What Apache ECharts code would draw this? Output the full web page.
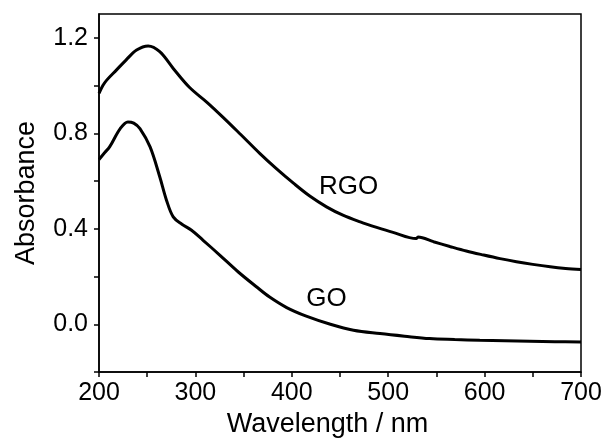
<!DOCTYPE html>
<html>
<head>
<meta charset="utf-8">
<script src="https://cdn.jsdelivr.net/npm/echarts@6/dist/echarts.min.js"></script>
<style>html,body{margin:0;padding:0;background:#fff;}#c{width:608px;height:444px;}</style>
</head>
<body>
<div id="c"></div>
<script>
// Data
const rgoWavelength = [200,204,208,218,228,239,251,263,277,294,312,329,347,367,384,402,419,436,453,471,488,505,529,531,547,564,581,599,616,633,650,668,684,700];
const rgoAbsorbance = [0.967,1.0,1.023,1.065,1.107,1.149,1.166,1.142,1.072,0.992,0.93,0.866,0.795,0.715,0.652,0.590,0.536,0.492,0.457,0.429,0.406,0.385,0.359,0.366,0.346,0.326,0.307,0.290,0.275,0.262,0.251,0.241,0.234,0.229];
const goWavelength = [200,206,211,222,230,236,242.5,253,263,270,277,286,296,308,325.5,344.5,363.6,377,394.7,415,440,464,491.5,517,543,569,595,621,647,673,700];
const goAbsorbance = [0.690,0.72,0.743,0.820,0.848,0.843,0.820,0.743,0.618,0.520,0.450,0.419,0.394,0.352,0.289,0.219,0.156,0.114,0.070,0.034,0.000,-0.025,-0.039,-0.05,-0.060,-0.064,-0.067,-0.069,-0.071,-0.073,-0.074];
const xTickValues = [200,250,300,350,400,450,500,550,600,650,700];
const xLabelValues = [200,300,400,500,600,700];
const yTickValues = [-0.2,0,0.2,0.4,0.6,0.8,1.0,1.2];
const yLabelValues = [0,0.4,0.8,1.2];
const curveLabels = [{text:'RGO', x:459, y:0.574}, {text:'GO', x:436, y:0.105}];

const zip = (a,b) => a.map((v,i)=>[v,b[i]]);
const font = 'Liberation Sans, Arial, sans-serif';
const chart = echarts.init(document.getElementById('c'), null, {renderer:'canvas'});
const axisLine = {show:true, onZero:false, lineStyle:{color:'#000', width:1.5}};
chart.setOption({
  animation:false,
  backgroundColor:'#fff',
  grid:{left:99, right:27, top:14, bottom:72, show:true, borderColor:'#000', borderWidth:1.5, backgroundColor:'transparent'},
  xAxis:{
    type:'value', min:200, max:700,
    axisLine:axisLine,
    axisTick:{show:true, length:5, lineStyle:{color:'#000', width:1.5}, customValues:xTickValues},
    axisLabel:{show:true, margin:9, color:'#000', fontSize:25, fontFamily:font, customValues:xLabelValues},
    splitLine:{show:false},
    name:'Wavelength / nm', nameLocation:'middle', nameGap:35,
    nameTextStyle:{color:'#000', fontSize:27, fontFamily:font, padding:[0,25,0,0]}
  },
  yAxis:{
    type:'value', min:-0.2, max:1.3,
    axisLine:axisLine,
    axisTick:{show:true, length:5, lineStyle:{color:'#000', width:1.5}, customValues:yTickValues},
    axisLabel:{show:true, margin:11, color:'#000', fontSize:25, fontFamily:font, customValues:yLabelValues,
      formatter:v=>Number(v).toFixed(1)},
    splitLine:{show:false},
    name:'Absorbance', nameLocation:'middle', nameGap:59,
    nameTextStyle:{color:'#000', fontSize:27, fontFamily:font}
  },
  series:[
    {type:'line', data:zip(rgoWavelength, rgoAbsorbance), smooth:0.35, showSymbol:false, symbol:'none', lineStyle:{color:'#000', width:3}},
    {type:'line', data:zip(goWavelength, goAbsorbance), smooth:0.35, showSymbol:false, symbol:'none', lineStyle:{color:'#000', width:3}}
  ]
});
const g = curveLabels.map(l => {
  const p = chart.convertToPixel({gridIndex:0}, [l.x, l.y]);
  return {type:'text', x:p[0], y:p[1], style:{text:l.text, fill:'#000', font:'26px ' + font, textAlign:'center', textVerticalAlign:'middle'}};
});
chart.setOption({graphic:g});
</script>
</body>
</html>
